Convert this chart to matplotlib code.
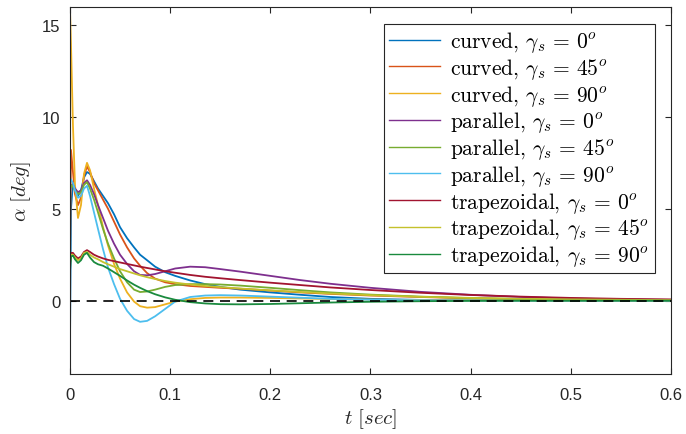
import numpy as np
import matplotlib
matplotlib.use('Agg')
import matplotlib.pyplot as plt

plt.rcParams['mathtext.fontset'] = 'cm'
plt.rcParams['font.family'] = ['Liberation Sans', 'DejaVu Sans']

# --- data ---
t = [0, 0.001, 0.003, 0.005, 0.008, 0.011, 0.014, 0.017, 0.020, 0.024,
     0.028, 0.033, 0.038, 0.044, 0.05, 0.057, 0.064, 0.07, 0.077, 0.085,
     0.095, 0.105, 0.12, 0.135, 0.15, 0.17, 0.2, 0.23, 0.26, 0.3,
     0.35, 0.4, 0.45, 0.5, 0.55, 0.6]

curved_0 = [-2.5, 5.0, 6.4, 6.1, 5.7, 6.0, 6.7, 7.0, 6.9, 6.5,
            6.1, 5.7, 5.3, 4.7, 4.0, 3.4, 2.9, 2.5, 2.2, 1.85,
            1.55, 1.35, 1.1, 0.9, 0.75, 0.6, 0.45, 0.32, 0.2, 0.1,
            0.04, 0.02, 0.01, 0.0, 0.0, 0.0]
curved_45 = [2.3, 8.2, 7.0, 5.8, 5.2, 5.6, 6.8, 7.3, 7.0, 6.4,
             6.0, 5.5, 5.0, 4.3, 3.6, 2.9, 2.3, 1.9, 1.5, 1.2,
             1.0, 0.9, 0.8, 0.75, 0.7, 0.65, 0.55, 0.45, 0.37, 0.28,
             0.2, 0.13, 0.08, 0.05, 0.03, 0.02]
curved_90 = [15.9, 14.0, 9.5, 6.3, 4.5, 5.2, 6.9, 7.5, 7.1, 6.1,
             5.2, 4.0, 3.0, 2.0, 1.2, 0.45, -0.05, -0.3, -0.38, -0.35,
             -0.2, -0.05, 0.08, 0.15, 0.17, 0.17, 0.15, 0.12, 0.09, 0.06,
             0.03, 0.02, 0.01, 0.0, 0.0, 0.0]
parallel_0 = [6.0, 6.3, 6.3, 6.1, 5.9, 6.0, 6.4, 6.55, 6.3, 5.8,
              5.2, 4.5, 3.8, 3.1, 2.5, 2.0, 1.6, 1.4, 1.38, 1.45,
              1.6, 1.75, 1.85, 1.82, 1.72, 1.58, 1.35, 1.12, 0.92, 0.7,
              0.48, 0.32, 0.2, 0.12, 0.07, 0.04]
parallel_45 = [6.0, 6.3, 6.2, 6.0, 5.8, 5.9, 6.3, 6.45, 6.1, 5.5,
               4.8, 3.9, 3.1, 2.3, 1.6, 1.0, 0.6, 0.47, 0.5, 0.6,
               0.75, 0.85, 0.9, 0.9, 0.88, 0.82, 0.7, 0.57, 0.45, 0.33,
               0.22, 0.14, 0.09, 0.05, 0.03, 0.02]
parallel_90 = [6.5, 6.6, 6.4, 6.0, 5.6, 5.7, 6.1, 6.25, 5.7, 4.8,
               3.9, 2.8, 1.8, 0.9, 0.1, -0.55, -1.0, -1.15, -1.1, -0.85,
               -0.45, -0.05, 0.2, 0.28, 0.3, 0.28, 0.22, 0.16, 0.1, 0.05,
               0.02, 0.01, 0.0, 0.0, 0.0, 0.0]
trap_0 = [2.0, 2.6, 2.6, 2.45, 2.3, 2.4, 2.65, 2.75, 2.65, 2.5,
          2.4, 2.3, 2.22, 2.15, 2.08, 2.0, 1.92, 1.85, 1.78, 1.7,
          1.6, 1.52, 1.4, 1.3, 1.22, 1.12, 0.98, 0.85, 0.72, 0.58,
          0.43, 0.31, 0.22, 0.15, 0.1, 0.07]
trap_45 = [2.0, 2.5, 2.5, 2.35, 2.2, 2.3, 2.6, 2.65, 2.5, 2.35,
           2.25, 2.1, 1.98, 1.85, 1.72, 1.6, 1.48, 1.38, 1.28, 1.18,
           1.07, 0.98, 0.88, 0.8, 0.74, 0.66, 0.56, 0.47, 0.39, 0.3,
           0.21, 0.15, 0.1, 0.07, 0.05, 0.03]
trap_90 = [1.6, 2.4, 2.45, 2.25, 2.05, 2.2, 2.5, 2.6, 2.35, 2.1,
           1.98, 1.9, 1.75, 1.55, 1.35, 1.1, 0.87, 0.7, 0.52, 0.35,
           0.18, 0.05, -0.08, -0.15, -0.19, -0.2, -0.18, -0.14, -0.1, -0.06,
           -0.03, -0.01, 0.0, 0.0, 0.0, 0.0]

series = [curved_0, curved_45, curved_90, parallel_0, parallel_45,
          parallel_90, trap_0, trap_45, trap_90]
names = ['curved', 'curved', 'curved', 'parallel', 'parallel', 'parallel',
         'trapezoidal', 'trapezoidal', 'trapezoidal']
angles = ['0', '45', '90'] * 3
colors = ['#0072BD', '#D95319', '#EDB120', '#7E2F8E', '#77AC30',
          '#4DBEEE', '#A2142F', '#C4C12C', '#1A8A3E']

axcol = '#262626'

fig = plt.figure(figsize=(6.86, 4.35), dpi=100)
ax = fig.add_axes([0.102, 0.1375, 0.876, 0.845])

for y, name, ang, c in zip(series, names, angles, colors):
    lab = r'%s, $\gamma_s \,=\, %s^o$' % (name, ang)
    ax.plot(t, y, color=c, lw=1.3, label=lab)

ax.plot([0, 0.6], [0, 0], color='k', ls='--', lw=1.2, dashes=(6, 4))

ax.set_xlim(0, 0.6)
ax.set_ylim(-4, 16)
ax.set_xticks([0, 0.1, 0.2, 0.3, 0.4, 0.5, 0.6])
ax.set_xticklabels(['0', '0.1', '0.2', '0.3', '0.4', '0.5', '0.6'])
ax.set_yticks([0, 5, 10, 15])
ax.tick_params(direction='in', length=4.3, width=0.8, top=True, right=True,
               labelsize=12, colors=axcol)
ax.tick_params(axis='x', pad=9)
ax.tick_params(axis='y', pad=7)
for sp in ax.spines.values():
    sp.set_color(axcol)
    sp.set_linewidth(0.8)

ax.set_xlabel(r'$t\ [sec]$', fontsize=15, color=axcol, labelpad=3)
ax.set_ylabel(r'$\alpha\ [deg]$', fontsize=15, color=axcol, labelpad=6)

leg = ax.legend(loc='upper right', bbox_to_anchor=(0.973, 0.953),
                borderaxespad=0, prop={'family': 'cmr10', 'size': 15.5},
                fancybox=False, framealpha=1, edgecolor=axcol,
                handlelength=2.37, handletextpad=0.47, labelspacing=0.08,
                borderpad=0.25)
leg.get_frame().set_linewidth(0.8)
for h in leg.get_lines():
    h.set_linewidth(1.0)

plt.savefig('out.png', dpi=100)
